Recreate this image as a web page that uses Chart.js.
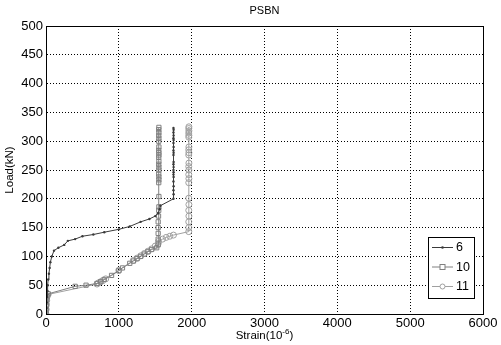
<!DOCTYPE html>
<html>
<head>
<meta charset="utf-8">
<script src="https://cdn.jsdelivr.net/npm/chart.js@4.4.1/dist/chart.umd.min.js"></script>
<style>
  html, body { margin: 0; padding: 0; background: #fff; }
  #wrap { width: 501px; height: 345px; }
</style>
</head>
<body>
<div id="wrap"><canvas id="myChart" width="501" height="345"></canvas></div>
<script>
// chart values
var chartTitle = "PSBN";
var seriesLabels = ["6", "10", "11"];
var xTicks = [0, 1000, 2000, 3000, 4000, 5000, 6000];
var yTicks = [0, 50, 100, 150, 200, 250, 300, 350, 400, 450, 500];

var strain6 = [0, 5, 10, 15, 20, 25, 30, 40, 50, 60, 80, 110, 170, 250, 300, 400, 500, 650, 800, 1000, 1150, 1300, 1420, 1500, 1540, 1560, 1570,
  1750, 1752, 1750, 1752, 1750, 1752, 1750, 1752, 1750, 1752, 1750, 1752, 1750, 1752, 1750, 1752, 1750, 1752, 1750, 1752, 1750, 1752, 1750];
var load6 = [0, 10, 20, 30, 40, 50, 60, 70, 80, 90, 100, 110, 115, 120, 127, 130, 135, 138, 142, 147, 152, 160, 165, 170, 175, 182, 188,
  200, 208, 215, 222, 230, 238, 242, 246, 250, 255, 260, 264, 276, 280, 284, 290, 297, 302, 305, 310, 315, 320, 323];

var strain10 = [0, 2, 4, 6, 8, 10, 15, 30, 400, 550, 700, 750, 800, 900, 1000, 1050, 1150, 1200, 1250, 1300, 1350, 1400, 1450, 1520,
  1540, 1540, 1540, 1540, 1540, 1545, 1548, 1550, 1550, 1548, 1550, 1550, 1548, 1550, 1550, 1548, 1550, 1548, 1550, 1550, 1548, 1550, 1548, 1550, 1548, 1550, 1548, 1550];
var load10 = [0, 5, 10, 15, 20, 25, 30, 35, 48, 50, 53, 56, 60, 67, 75, 80, 88, 92, 96, 100, 104, 108, 112, 115,
  120, 130, 140, 150, 160, 170, 180, 186, 204, 228, 233, 238, 243, 250, 255, 260, 265, 272, 276, 280, 284, 290, 300, 305, 310, 315, 320, 324];

var strain11 = [0, 3, 6, 10, 15, 30, 700, 720, 750, 780, 820, 1000, 1200, 1250, 1300, 1350, 1400, 1450, 1500, 1540, 1545, 1600, 1650, 1700, 1750,
  1960, 1960, 1960, 1962, 1960, 1962, 1960, 1960, 1962, 1960, 1962, 1960, 1962, 1960, 1962, 1960, 1962, 1960, 1962, 1960, 1962, 1960, 1962];
var load11 = [0, 8, 16, 24, 30, 34, 52, 54, 56, 58, 61, 76, 93, 97, 101, 105, 109, 113, 118, 122, 126, 130, 133, 135, 137,
  143, 150, 160, 170, 180, 190, 201, 228, 235, 242, 250, 256, 262, 276, 280, 285, 290, 307, 310, 314, 318, 322, 325];

function toPoints(xs, ys) {
  return xs.map(function (x, i) { return { x: x, y: ys[i] }; });
}

var FONT = "'Liberation Sans', Arial, sans-serif";

var boxAndText = {
  id: 'boxAndText',
  afterDraw: function (chart) {
    var ctx = chart.ctx;
    var a = chart.chartArea;
    ctx.save();
    // solid frame
    ctx.strokeStyle = '#000';
    ctx.lineWidth = 1;
    ctx.setLineDash([]);
    ctx.strokeRect(Math.round(a.left) + 0.5, Math.round(a.top) + 0.5, Math.round(a.right - a.left), Math.round(a.bottom - a.top));

    ctx.fillStyle = '#000';
    // title
    ctx.font = '11px ' + FONT;
    ctx.textAlign = 'center';
    ctx.textBaseline = 'middle';
    ctx.fillText(chartTitle, (a.left + a.right) / 2, 11);

    // y title
    ctx.font = '11.5px ' + FONT;
    ctx.save();
    ctx.translate(10, (a.top + a.bottom) / 2);
    ctx.rotate(-Math.PI / 2);
    ctx.fillText('Load(kN)', 0, 0);
    ctx.restore();

    // x title with superscript
    var p1 = 'Strain(10', sup = '-6', p2 = ')';
    ctx.font = '11.5px ' + FONT;
    var w1 = ctx.measureText(p1).width, w3 = ctx.measureText(p2).width;
    ctx.font = '8px ' + FONT;
    var w2 = ctx.measureText(sup).width;
    var x0 = (a.left + a.right) / 2 - (w1 + w2 + w3) / 2;
    var yb = 339;
    ctx.textAlign = 'left';
    ctx.textBaseline = 'alphabetic';
    ctx.font = '11.5px ' + FONT;
    ctx.fillText(p1, x0, yb);
    ctx.font = '8px ' + FONT;
    ctx.fillText(sup, x0 + w1, yb - 5);
    ctx.font = '11.5px ' + FONT;
    ctx.fillText(p2, x0 + w1 + w2, yb);

    // legend
    var lx = 428, ly = 237, lw = 46, lh = 61;
    ctx.fillStyle = '#fff';
    ctx.fillRect(lx, ly, lw, lh);
    ctx.strokeStyle = '#000';
    ctx.strokeRect(lx + 0.5, ly + 0.5, lw, lh);
    chart.data.datasets.forEach(function (ds, i) {
      var yy = 247.5 + i * 19.5;
      ctx.strokeStyle = ds.borderColor;
      ctx.lineWidth = 1;
      ctx.beginPath();
      ctx.moveTo(432, yy);
      ctx.lineTo(453, yy);
      ctx.stroke();
      var mx = 442.5;
      if (ds.pointStyle === 'rect') {
        ctx.fillStyle = '#fff';
        ctx.fillRect(mx - 2.5, yy - 2.5, 5, 5);
        ctx.strokeRect(mx - 2.5, yy - 2.5, 5, 5);
      } else if (i === 0) {
        ctx.fillStyle = ds.borderColor;
        ctx.beginPath();
        ctx.arc(mx, yy, 1.3, 0, Math.PI * 2);
        ctx.fill();
      } else {
        ctx.fillStyle = '#fff';
        ctx.beginPath();
        ctx.arc(mx, yy, 2.5, 0, Math.PI * 2);
        ctx.fill();
        ctx.stroke();
      }
      ctx.fillStyle = '#000';
      ctx.font = '12.5px ' + FONT;
      ctx.textAlign = 'left';
      ctx.textBaseline = 'middle';
      ctx.fillText(ds.label, 456, yy + 0.5);
    });
    ctx.restore();
  }
};

var ctx = document.getElementById('myChart');
var myChart = new Chart(ctx, {
  type: 'scatter',
  data: {
    datasets: [{
      label: seriesLabels[0],
      data: toPoints(strain6, load6),
      showLine: true,
      borderColor: '#3a3a3a',
      borderWidth: 1,
      pointStyle: 'circle',
      pointRadius: 1.2,
      pointBackgroundColor: '#3a3a3a',
      pointBorderColor: '#3a3a3a',
      pointBorderWidth: 0
    }, {
      label: seriesLabels[1],
      data: toPoints(strain10, load10),
      showLine: true,
      borderColor: '#808080',
      borderWidth: 1,
      pointStyle: 'rect',
      pointRadius: 3,
      pointBackgroundColor: 'rgba(255,255,255,0)',
      pointBorderColor: '#808080',
      pointBorderWidth: 1
    }, {
      label: seriesLabels[2],
      data: toPoints(strain11, load11),
      showLine: true,
      borderColor: '#a0a0a0',
      borderWidth: 1,
      pointStyle: 'circle',
      pointRadius: 3,
      pointBackgroundColor: 'rgba(255,255,255,0)',
      pointBorderColor: '#a0a0a0',
      pointBorderWidth: 1
    }]
  },
  options: {
    responsive: false,
    animation: false,
    layout: { padding: { top: 26, right: 18, left: 0, bottom: 0 } },
    plugins: {
      legend: { display: false },
      title: { display: false },
      tooltip: { enabled: false }
    },
    scales: {
      x: {
        type: 'linear',
        min: xTicks[0],
        max: xTicks[xTicks.length - 1],
        afterBuildTicks: function (s) { s.ticks = xTicks.map(function (v) { return { value: v }; }); },
        afterFit: function (s) { s.height = 31; },
        ticks: {
          color: '#000', font: { family: FONT, size: 13 }, padding: 2, maxRotation: 0, autoSkip: false,
          callback: function (v) { return String(v); }
        },
        grid: { color: '#000', lineWidth: 1, drawTicks: false },
        border: { display: true, color: '#000', dash: [1, 2] }
      },
      y: {
        type: 'linear',
        min: yTicks[0],
        max: yTicks[yTicks.length - 1],
        afterBuildTicks: function (s) { s.ticks = yTicks.map(function (v) { return { value: v }; }); },
        afterFit: function (s) { s.width = 46; },
        ticks: {
          color: '#000', font: { family: FONT, size: 13 }, padding: 3, autoSkip: false,
          callback: function (v) { return String(v); }
        },
        grid: { color: '#000', lineWidth: 1, drawTicks: false },
        border: { display: true, color: '#000', dash: [1, 2] }
      }
    }
  },
  plugins: [boxAndText]
});
</script>
</body>
</html>
